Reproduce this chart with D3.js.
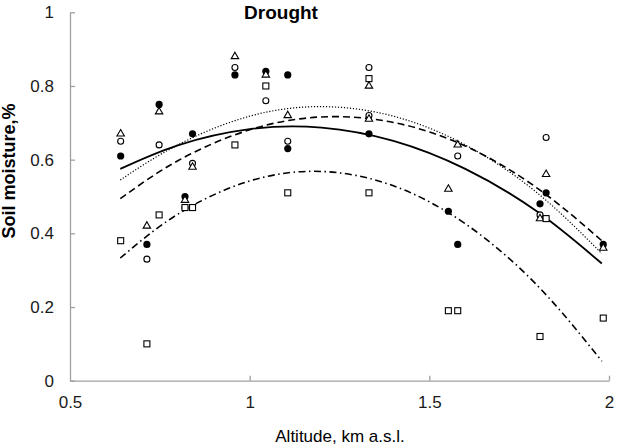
<!DOCTYPE html>
<html><head><meta charset="utf-8">
<script src="https://cdn.jsdelivr.net/npm/d3@7"></script>
<style>body{margin:0;background:#fff}svg{display:block}</style>
</head><body>
<svg id="c" width="617" height="445"></svg>
<script>
// Site altitudes (km a.s.l.) and soil moisture per series (null = not shown)
const altitude = [0.641,0.714,0.748,0.820,0.841,0.959,1.045,1.106,1.106,1.332,1.332,1.553,1.579,1.808,1.825,1.984];
const filledCircle = [0.61,0.37,0.75,0.50,0.67,0.83,0.84,0.63,0.83,null,0.67,0.46,0.37,0.48,0.51,0.37];
const openCircle   = [0.65,0.33,0.64,0.47,0.59,0.85,0.76,0.65,null,0.85,0.72,null,0.61,0.45,0.66,null];
const openTriangle = [0.67,0.42,0.73,0.49,0.58,0.88,0.83,0.72,null,0.80,0.71,0.52,0.64,0.44,0.56,0.36];
const openSquare   = [0.38,0.10,0.45,0.47,0.47,0.64,0.80,0.51,null,0.82,0.51,0.19,0.19,0.12,0.44,0.17];

// Trend curves
const curveX = [0.64,0.8,1.0,1.2,1.4,1.6,1.8,1.98];
const trendFilled   = [0.575,0.639,0.683,0.687,0.651,0.575,0.459,0.318];
const trendCircle   = [0.545,0.640,0.718,0.744,0.718,0.640,0.510,0.345];
const trendTriangle = [0.494,0.597,0.681,0.716,0.701,0.637,0.523,0.380];
const trendSquare   = [0.333,0.452,0.542,0.568,0.529,0.426,0.259,0.053];

const xTicks = [0.5,1,1.5,2];
const yTicks = [0,0.2,0.4,0.6,0.8,1];

const svg = d3.select("#c");
const x = d3.scaleLinear().domain([0.5,2]).range([70,609]);
const y = d3.scaleLinear().domain([0,1]).range([380.7,12.3]);
const axisColor = "#a0a0a0";
const font = "Liberation Sans, Arial, sans-serif";

const gx = svg.append("g").attr("transform","translate(0,380.7)")
  .call(d3.axisBottom(x).tickValues(xTicks).tickFormat(d3.format("")).tickSizeInner(-5).tickSizeOuter(0).tickPadding(15));
const gy = svg.append("g").attr("transform","translate(70,0)")
  .call(d3.axisLeft(y).tickValues(yTicks).tickFormat(d3.format("")).tickSizeInner(-5).tickSizeOuter(0).tickPadding(16));
[gx,gy].forEach(g=>{
  g.select(".domain").attr("stroke",axisColor).attr("stroke-width",1.3);
  g.selectAll(".tick line").attr("stroke",axisColor).attr("stroke-width",1.3);
  g.selectAll(".tick text").attr("fill","#1a1a1a").style("font-family",font).style("font-size","17px");
});
gx.selectAll(".tick").filter(d=>d===0.5).select("line").remove();

// trend lines
const line = d3.line().x((d,i)=>x(curveX[i])).y(d=>y(d)).curve(d3.curveNatural);
const trends = [
  {v:trendFilled, dash:null, w:1.8},
  {v:trendCircle, dash:"1.2,1.8", w:1.2},
  {v:trendTriangle, dash:"7,4", w:1.6},
  {v:trendSquare, dash:"7,3.5,1.5,3.5", w:1.6}
];
trends.forEach(t=>{
  svg.append("path").attr("d",line(t.v)).attr("fill","none").attr("stroke","#000")
    .attr("stroke-width",t.w).attr("stroke-dasharray",t.dash);
});

// points
const pts = (arr)=>altitude.map((a,i)=>({a,v:arr[i]})).filter(d=>d.v!==null);
svg.append("g").selectAll("circle").data(pts(filledCircle)).join("circle")
  .attr("cx",d=>x(d.a)).attr("cy",d=>y(d.v)).attr("r",3.6).attr("fill","#000");
svg.append("g").selectAll("circle").data(pts(openCircle)).join("circle")
  .attr("cx",d=>x(d.a)).attr("cy",d=>y(d.v)).attr("r",3).attr("fill","#fff").attr("stroke","#000").attr("stroke-width",1.1);
svg.append("g").selectAll("path").data(pts(openTriangle)).join("path")
  .attr("d",d3.symbol(d3.symbolTriangle,24)).attr("transform",d=>`translate(${x(d.a)},${y(d.v)})`)
  .attr("fill","#fff").attr("stroke","#000").attr("stroke-width",1.1);
svg.append("g").selectAll("rect").data(pts(openSquare)).join("rect")
  .attr("x",d=>x(d.a)-3).attr("y",d=>y(d.v)-3).attr("width",6).attr("height",6)
  .attr("fill","#fff").attr("stroke","#000").attr("stroke-width",1.1);

// labels
svg.append("text").attr("x",281).attr("y",19).attr("text-anchor","middle")
  .style("font-family",font).style("font-weight","bold").style("font-size","19px").text("Drought");
svg.append("text").attr("transform","translate(15,171) rotate(-90)").attr("text-anchor","middle")
  .style("font-family",font).style("font-weight","bold").style("font-size","18px").text("Soil moisture,%");
svg.append("text").attr("x",340).attr("y",442).attr("text-anchor","middle")
  .style("font-family",font).style("font-size","17px").text("Altitude, km a.s.l.");
</script>
</body></html>
